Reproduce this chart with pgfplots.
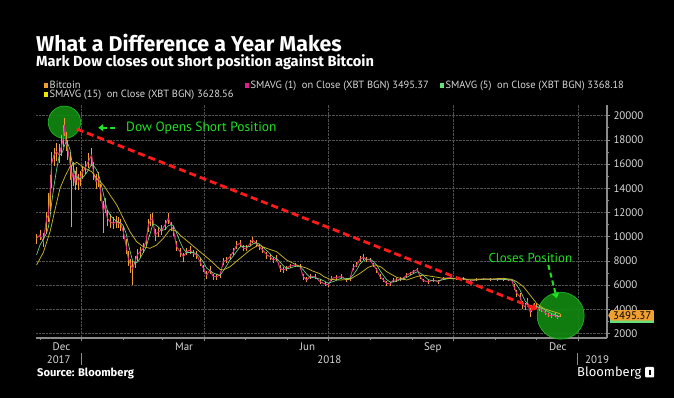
\documentclass[border=0pt]{standalone}
\usepackage{pgfplots}
\pgfplotsset{compat=1.18}
\usepackage{pgfplotstable}
\usepackage{fontspec}
\setmainfont{PT Sans}
\newfontfamily\titlefont{Fira Sans}
\usetikzlibrary{shapes.symbols,arrows.meta}
\definecolor{btcorange}{HTML}{F0A030}
\definecolor{smapink}{HTML}{E0208C}
\definecolor{smagreen}{HTML}{66D98C}
\definecolor{smayellow}{HTML}{C8B41E}
\definecolor{legyellow}{HTML}{F2E600}
\definecolor{leggreen}{HTML}{66E07A}
\definecolor{leggray}{HTML}{D8D8D8}
\definecolor{gridgray}{HTML}{505050}
\definecolor{axisgray}{HTML}{8C8C8C}
\definecolor{annogreen}{HTML}{22E022}
\definecolor{circgreen}{HTML}{128A12}
\definecolor{circedge}{HTML}{22C022}
\definecolor{annored}{HTML}{FF1A1A}

\pgfplotstableread{
d c p m
-33.0 9860 400 500
-30.5 10140 450 400
-28.0 9590 700 450
-25.6 11500 500 1300
-24.3 11790 1800 600
-23.0 13720 1400 1600
-21.9 16060 900 2000
-20.2 16750 600 900
-18.2 17030 700 800
-16.3 16750 900 700
-14.5 17580 800 900
-13.3 18130 1100 700
-12.6 19230 600 900
-11.4 17850 800 800
-10.1 17300 700 1000
-8.4 16060 900 1400
-7.2 14820 1000 3990
-6.0 15370 800 1200
-4.8 14550 900 700
-3.5 15100 700 800
-2.3 14550 600 700
-1.1 14820 600 600
0.9 15370 500 600
2.6 15650 600 500
5.0 16200 700 500
7.5 16750 600 900
8.7 15370 800 700
10.7 14550 600 600
12.4 14820 500 700
14.1 13720 600 800
16.0 12070 900 1800
17.3 12620 600 700
19.0 11520 700 600
21.0 11240 600 500
23.4 11100 500 500
25.4 11240 500 500
27.1 11100 500 400
28.8 11100 400 600
30.7 10410 500 600
32.7 9310 500 700
34.4 8210 600 600
36.1 7660 500 700
37.6 7380 600 1380
39.3 7940 500 500
41.0 8490 500 500
43.0 8760 400 500
45.4 9040 400 400
47.4 9590 500 400
49.1 10960 500 600
50.8 11380 500 500
52.3 11520 400 600
54.0 10140 500 500
56.5 10410 400 400
58.9 10550 400 400
61.3 10960 400 400
63.8 11520 400 500
66.2 10830 400 400
67.5 10550 300 500
69.9 9180 500 400
72.3 8760 300 400
74.8 8350 300 400
77.2 8760 300 300
79.7 8900 300 300
82.1 8620 300 300
84.6 8490 300 300
87.0 7940 300 400
89.5 7380 300 300
91.9 6830 300 300
94.4 7250 300 300
96.8 6700 250 300
99.3 6700 250 250
101.7 6830 250 250
104.2 7940 300 300
106.6 8070 250 250
109.1 8350 250 250
111.5 8760 300 250
114.0 9310 300 300
116.4 9450 300 300
118.9 9040 250 250
121.3 9040 250 250
123.8 9450 250 250
125.7 9730 250 250
128.2 9450 250 300
130.6 9180 250 250
133.1 8900 250 250
136.0 8490 250 300
138.4 8350 250 250
140.9 8070 250 250
143.3 8210 250 250
145.8 7380 250 300
148.2 7250 250 250
150.7 7380 200 200
153.1 7580 200 200
156.8 7660 200 200
160.5 7520 200 200
162.9 6700 250 250
165.4 6420 250 200
167.8 6700 200 200
171.5 6700 200 200
175.1 6280 200 200
178.8 6090 200 200
181.3 6010 200 200
183.7 6560 200 200
187.4 6640 200 200
191.1 6700 200 200
194.7 6420 200 200
197.2 6560 200 200
199.6 7470 250 250
202.1 7660 250 200
204.5 8130 250 250
207.0 8290 250 200
209.4 8130 200 200
211.9 8070 200 200
214.3 7660 200 200
216.8 7250 200 250
219.2 6700 200 200
221.7 6420 200 200
224.1 6140 200 200
226.6 6090 200 200
229.0 6420 200 200
231.5 6420 150 150
233.9 6480 150 150
236.3 6560 150 150
238.8 6830 150 150
241.2 6970 150 150
243.7 7110 150 150
246.6 7300 150 150
248.6 6700 150 200
251.0 6370 150 150
254.7 6280 150 150
258.4 6420 150 150
262.0 6280 150 150
265.7 6560 150 150
270.6 6610 100 100
275.5 6530 100 100
280.4 6560 100 100
285.3 6280 150 150
290.2 6480 100 100
295.0 6500 100 100
300.0 6480 100 100
305.0 6450 100 100
309.8 6480 100 100
313.4 6420 100 100
315.9 6420 100 100
317.6 5870 200 300
319.6 5320 300 300
322.0 5040 300 300
324.0 4350 300 300
325.7 4220 300 300
327.4 4630 300 300
329.4 3800 300 400
330.6 4080 300 300
332.3 4350 200 200
334.2 4220 200 200
336.2 4080 200 200
337.9 3940 200 200
340.4 3720 200 200
342.8 3530 200 200
345.3 3450 150 150
347.7 3530 150 150
349.4 3340 150 150
351.4 3495 150 150
}\btcdata

\pgfplotstableread{
d v
-33.0 8500
-30.5 9300
-28.0 9800
-25.6 10300
-24.3 10800
-23.0 11700
-21.9 12800
-20.2 14200
-18.2 15600
-16.3 16700
-14.5 16900
-13.3 17200
-12.6 17500
-11.4 17800
-10.1 17700
-8.4 17200
-7.2 16300
-6.0 15800
-4.8 15200
-3.5 14900
-2.3 14900
-1.1 14800
0.9 14900
2.6 15100
5.0 15500
7.5 16000
8.7 15900
10.7 15600
12.4 15200
14.1 14500
16.0 13600
17.3 12900
19.0 12200
21.0 11800
23.4 11500
25.4 11300
27.1 11200
28.8 11150
30.7 10900
32.7 10300
34.4 9400
36.1 8600
37.6 8000
39.3 7800
41.0 7900
43.0 8200
45.4 8700
47.4 9100
49.1 9800
50.8 10400
52.3 11000
54.0 11000
56.5 10800
58.9 10500
61.3 10600
63.8 10900
66.2 11000
67.5 10900
69.9 10300
72.3 9600
74.8 9000
77.2 8700
79.7 8700
82.1 8700
84.6 8600
87.0 8300
89.5 7900
91.9 7400
94.4 7200
96.8 7000
99.3 6900
101.7 6800
104.2 7200
106.6 7600
109.1 8100
111.5 8400
114.0 8800
116.4 9150
118.9 9200
121.3 9150
123.8 9200
125.7 9400
128.2 9500
130.6 9400
133.1 9150
136.0 8850
138.4 8600
140.9 8300
143.3 8200
145.8 7900
148.2 7600
150.7 7350
153.1 7400
156.8 7550
160.5 7550
162.9 7250
165.4 6900
167.8 6650
171.5 6600
175.1 6500
178.8 6300
181.3 6150
183.7 6250
187.4 6400
191.1 6600
194.7 6550
197.2 6550
199.6 6850
202.1 7250
204.5 7750
207.0 8000
209.4 8150
211.9 8150
214.3 7950
216.8 7650
219.2 7200
221.7 6800
224.1 6450
226.6 6250
229.0 6250
231.5 6330
233.9 6450
236.3 6500
238.8 6630
241.2 6800
243.7 6950
246.6 7100
248.6 7000
251.0 6800
254.7 6450
258.4 6350
262.0 6350
265.7 6450
270.6 6550
275.5 6550
280.4 6550
285.3 6420
290.2 6420
295.0 6480
300.0 6480
305.0 6470
309.8 6470
313.4 6450
315.9 6430
317.6 6300
319.6 6000
322.0 5600
324.0 5100
325.7 4700
327.4 4500
329.4 4250
330.6 4150
332.3 4200
334.2 4250
336.2 4150
337.9 4100
340.4 3950
342.8 3800
345.3 3650
347.7 3550
349.4 3450
351.4 3370
}\smafive

\pgfplotstableread{
d v
-33.0 7660
-28.0 8700
-23.1 10410
-19.5 12200
-15.8 13990
-12.0 15000
-8.4 15790
-3.5 16150
2.6 15650
7.5 15370
11.2 14820
16.1 14270
21.0 13440
25.9 12620
30.7 11520
35.6 10410
40.5 9590
45.4 9170
50.3 9040
55.2 9310
60.1 9860
65.0 10600
69.9 10450
72.3 10140
79.7 9450
87.0 8760
94.4 8070
101.7 7300
104.2 7250
109.1 7520
116.4 8210
123.8 8900
129.9 9310
136.0 9040
143.3 8760
150.7 8070
158.0 7660
165.4 7400
170.0 7150
175.0 6950
178.0 6700
182.5 6480
189.8 6420
197.2 6480
204.5 6970
210.6 7470
215.5 7660
220.0 7500
224.1 7110
231.5 6640
238.8 6420
246.1 6700
251.0 6830
258.4 6700
265.7 6560
277.9 6500
285.3 6480
300.0 6500
309.8 6560
315.9 6480
319.6 6280
324.5 5870
329.4 5180
334.2 4490
339.1 4080
344.0 3890
348.9 3720
351.4 3630
}\smafifteen

\begin{document}
\begin{tikzpicture}
\fill[black] (0,0) rectangle (674bp,398bp);
\begin{axis}[
  at={(36bp,60bp)}, anchor=south west,
  scale only axis, width=571bp, height=233bp,
  xmin=-33.4, xmax=385.9, ymin=1628, ymax=20884,
  clip mode=individual,
  axis x line*=bottom, axis y line*=right,
  axis line style={axisgray, line width=1.3pt},
  tick align=outside,
  tick style={axisgray, line width=0.6pt},
  major tick length=3bp, minor tick length=2bp,
  xtick={0,90,181,273,365}, xticklabels={},
  minor xtick={-30,31,59,120,151,212,243,304,334},
  ytick={2000,4000,...,20000},
  minor ytick={3000,5000,...,19000},
  scaled y ticks=false,
  xmajorgrids, ymajorgrids,
  grid style={gridgray, densely dotted, line width=0.5pt},
  yticklabel style={font=\fontsize{11}{12}\selectfont, text=leggray},
  /pgf/number format/assume math mode=true,
  /pgf/number format/1000 sep={},
  legend columns=3,
  legend cell align=left,
  legend style={at={(0.012,1.109)}, anchor=north west, draw=none, fill=none,
    text=leggray, font=\fontsize{10.5}{11}\selectfont, inner sep=0pt,
    nodes={inner sep=0.8bp},
    /tikz/every even column/.append style={column sep=9.5bp}, row sep=-1.3bp},
  legend image code/.code={\fill[#1] (0bp,-2.8bp) rectangle (5.4bp,2.8bp);},
]
\addlegendimage{fill=btcorange}
\addlegendentry{Bitcoin}
\addlegendimage{fill=smapink}
\addlegendentry{SMAVG (1)\ \ on Close (XBT BGN) 3495.37}
\addlegendimage{fill=leggreen}
\addlegendentry{SMAVG (5)\ \ on Close (XBT BGN) 3368.18}
\addlegendimage{fill=legyellow}
\addlegendentry{SMAVG (15)\ \ on Close (XBT BGN) 3628.56}

\fill[circgreen, opacity=0.9] (axis cs:-12.5,19460) circle[radius=16.2bp];
\draw[circedge, line width=0.6pt] (axis cs:-12.5,19460) circle[radius=16.2bp];
\fill[circgreen, opacity=0.9] (axis cs:351.9,3470) circle[radius=23.5bp];
\draw[circedge, line width=0.6pt] (axis cs:351.9,3470) circle[radius=23.5bp];

\addplot[btcorange, line width=0.5pt, forget plot,
  error bars/.cd, y dir=both, y explicit, error mark=none,
  error bar style={btcorange, line width=0.6pt}]
  table[x=d, y=c, y error plus=p, y error minus=m]{\btcdata};
\addplot[smapink, line width=0.75pt, forget plot] table[x=d, y=c]{\btcdata};
\addplot[smagreen, line width=0.65pt, forget plot] table[x=d, y=v]{\smafive};
\addplot[smayellow, line width=0.75pt, forget plot] table[x=d, y=v]{\smafifteen};

\draw[annored, line width=2.8bp, dash pattern=on 7bp off 4bp,
  -{Triangle[length=6bp,width=8bp]}] (axis cs:-3.5,18900) -- (axis cs:334.8,4000);
\draw[annogreen, line width=2bp, dash pattern=on 5bp off 3bp,
  -{Triangle[length=5bp,width=7bp]}] (axis cs:24.6,19008) -- (axis cs:12.3,19008);
\node[anchor=west, text=annogreen, font=\fontsize{13.5}{15}\selectfont, inner sep=0pt]
  at (axis cs:32.7,19008) {Dow Opens Short Position};
\node[anchor=west, text=annogreen, font=\fontsize{13}{15}\selectfont, inner sep=0pt]
  at (axis cs:298.8,8240) {Closes Position};
\draw[annogreen, line width=2bp, dash pattern=on 5bp off 3bp,
  -{Triangle[length=5bp,width=7bp]}] (axis cs:342.8,7665) -- (axis cs:349,4910);

\node[fill=leggreen, minimum width=44bp, minimum height=12bp, inner sep=0pt, anchor=west]
  at (axis cs:385.9,3368.18) [xshift=3bp] {};
\node[signal, signal to=west, signal pointer angle=120, fill=btcorange, text=black,
  inner xsep=2bp, inner ysep=1.2bp, font=\fontsize{11}{12}\selectfont, anchor=west]
  at (axis cs:385.9,3495.37) [xshift=1bp] {3495.37};

\node[anchor=base, text=leggray, font=\fontsize{11}{12}\selectfont, inner sep=0pt] at (axis cs:-14.7,1628) [yshift=-12bp] {Dec};
\node[anchor=base, text=leggray, font=\fontsize{11}{12}\selectfont, inner sep=0pt] at (axis cs:75.3,1628) [yshift=-12bp] {Mar};
\node[anchor=base, text=leggray, font=\fontsize{11}{12}\selectfont, inner sep=0pt] at (axis cs:166,1628) [yshift=-12bp] {Jun};
\node[anchor=base, text=leggray, font=\fontsize{11}{12}\selectfont, inner sep=0pt] at (axis cs:258,1628) [yshift=-12bp] {Sep};
\node[anchor=base, text=leggray, font=\fontsize{11}{12}\selectfont, inner sep=0pt] at (axis cs:349.8,1628) [yshift=-12bp] {Dec};
\node[anchor=base, text=leggray, font=\fontsize{11}{12}\selectfont, inner sep=0pt] at (axis cs:-16.7,1628) [yshift=-25.3bp] {2017};
\node[anchor=base, text=leggray, font=\fontsize{11}{12}\selectfont, inner sep=0pt] at (axis cs:182,1628) [yshift=-25.3bp] {2018};
\node[anchor=base, text=leggray, font=\fontsize{11}{12}\selectfont, inner sep=0pt] at (axis cs:378.6,1628) [yshift=-25.3bp] {2019};
\end{axis}
\draw[axisgray, line width=0.8pt] (81.6bp,45.3bp) -- (81.6bp,33bp);
\draw[axisgray, line width=0.8pt] (577bp,45.3bp) -- (577bp,33bp);

\node[anchor=base west, text=white, inner sep=0pt] at (36bp,346.3bp)
  {\titlefont\bfseries\fontsize{21.5}{24}\selectfont What a Difference a Year Makes};
\node[anchor=base west, text=white, inner sep=0pt] at (36bp,331.3bp)
  {\titlefont\bfseries\fontsize{14.7}{16}\selectfont Mark Dow closes out short position against Bitcoin};
\node[anchor=base west, text=white, inner sep=0pt] at (37bp,22bp)
  {\titlefont\bfseries\fontsize{11.2}{13}\selectfont Source: Bloomberg};
\node[anchor=base west, text=white, inner sep=0pt] at (577bp,21.5bp)
  {\titlefont\fontsize{13}{14}\selectfont Bloomberg};
\fill[white, rounded corners=1bp] (645bp,20.5bp) rectangle (654bp,31bp);
\fill[black] (648.5bp,23bp) rectangle (650.5bp,28bp);

\pgfresetboundingbox
\useasboundingbox (0,0) rectangle (674bp,398bp);
\end{tikzpicture}
\end{document}
